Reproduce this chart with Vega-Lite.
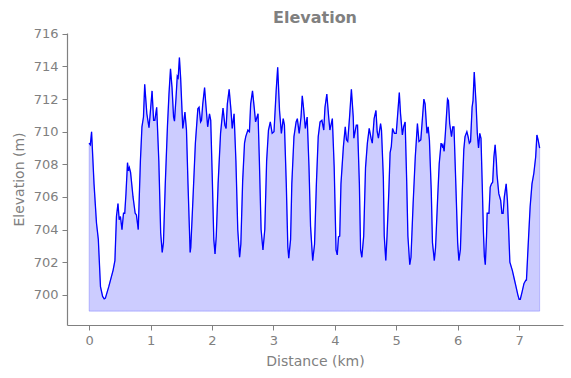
{
  "$schema": "https://vega.github.io/schema/vega-lite/v6.json",
  "width": 496,
  "height": 292,
  "autosize": "none",
  "padding": {"left": 67, "top": 33, "right": 8, "bottom": 53},
  "title": {"text": "Elevation", "font": "DejaVu Sans", "fontSize": 16, "fontWeight": "bold", "color": "#808080", "offset": 2, "anchor": "middle"},
  "config": {
    "view": {"stroke": null},
    "axis": {"grid": false, "domainColor": "#808080", "tickColor": "#808080", "labelColor": "#808080", "titleColor": "#808080", "labelFont": "DejaVu Sans", "titleFont": "DejaVu Sans", "labelFontSize": 13, "titleFontSize": 14, "titleFontWeight": "normal", "tickSize": 5, "labelPadding": 4, "domainWidth": 1.2}
  },
  "data": {"values": [
    {"d":0.00,"e":709.3},{"d":0.02,"e":709.2},{"d":0.04,"e":710.0},{"d":0.08,"e":706.8},{"d":0.12,"e":704.4},{"d":0.15,"e":703.4},{"d":0.185,"e":700.5},{"d":0.22,"e":699.9},{"d":0.245,"e":699.75},{"d":0.265,"e":699.8},{"d":0.32,"e":700.5},{"d":0.39,"e":701.5},{"d":0.42,"e":702.1},{"d":0.445,"e":704.8},{"d":0.47,"e":705.6},{"d":0.49,"e":704.6},{"d":0.51,"e":704.8},{"d":0.535,"e":704.0},{"d":0.56,"e":705.0},{"d":0.58,"e":705.0},{"d":0.60,"e":706.2},{"d":0.625,"e":708.1},{"d":0.64,"e":707.6},{"d":0.655,"e":707.8},{"d":0.675,"e":707.5},{"d":0.715,"e":706.0},{"d":0.75,"e":705.0},{"d":0.77,"e":704.9},{"d":0.80,"e":704.0},{"d":0.835,"e":708.2},{"d":0.86,"e":710.3},{"d":0.885,"e":710.9},{"d":0.905,"e":712.9},{"d":0.94,"e":711.1},{"d":0.975,"e":710.25},{"d":0.99,"e":710.9},{"d":1.025,"e":712.5},{"d":1.05,"e":710.7},{"d":1.07,"e":710.7},{"d":1.10,"e":711.5},{"d":1.135,"e":708.2},{"d":1.165,"e":703.8},{"d":1.19,"e":702.6},{"d":1.21,"e":703.2},{"d":1.24,"e":706.8},{"d":1.275,"e":710.3},{"d":1.30,"e":712.3},{"d":1.325,"e":713.85},{"d":1.35,"e":712.7},{"d":1.375,"e":710.9},{"d":1.39,"e":710.65},{"d":1.415,"e":712.1},{"d":1.435,"e":713.4},{"d":1.45,"e":713.3},{"d":1.47,"e":714.55},{"d":1.49,"e":713.3},{"d":1.525,"e":710.2},{"d":1.54,"e":710.6},{"d":1.56,"e":711.2},{"d":1.585,"e":710.1},{"d":1.61,"e":706.8},{"d":1.645,"e":702.6},{"d":1.655,"e":702.9},{"d":1.685,"e":705.4},{"d":1.73,"e":709.3},{"d":1.77,"e":711.4},{"d":1.79,"e":711.5},{"d":1.815,"e":710.6},{"d":1.83,"e":710.7},{"d":1.85,"e":711.7},{"d":1.88,"e":712.7},{"d":1.90,"e":711.7},{"d":1.93,"e":710.3},{"d":1.96,"e":711.1},{"d":1.98,"e":710.7},{"d":2.005,"e":707.2},{"d":2.03,"e":703.4},{"d":2.05,"e":702.5},{"d":2.07,"e":703.6},{"d":2.10,"e":706.8},{"d":2.14,"e":709.9},{"d":2.18,"e":711.45},{"d":2.21,"e":710.4},{"d":2.23,"e":710.2},{"d":2.25,"e":711.7},{"d":2.28,"e":712.6},{"d":2.31,"e":711.3},{"d":2.33,"e":710.2},{"d":2.36,"e":711.1},{"d":2.39,"e":708.2},{"d":2.42,"e":704.0},{"d":2.45,"e":702.3},{"d":2.47,"e":703.1},{"d":2.50,"e":707.0},{"d":2.53,"e":709.3},{"d":2.55,"e":709.7},{"d":2.585,"e":710.1},{"d":2.61,"e":710.0},{"d":2.63,"e":711.7},{"d":2.66,"e":712.5},{"d":2.69,"e":711.4},{"d":2.71,"e":710.6},{"d":2.75,"e":711.1},{"d":2.77,"e":708.5},{"d":2.80,"e":704.0},{"d":2.83,"e":702.75},{"d":2.86,"e":704.0},{"d":2.89,"e":708.2},{"d":2.92,"e":710.1},{"d":2.95,"e":710.6},{"d":2.98,"e":709.9},{"d":3.01,"e":710.0},{"d":3.045,"e":712.5},{"d":3.07,"e":713.95},{"d":3.10,"e":711.3},{"d":3.13,"e":709.9},{"d":3.16,"e":710.8},{"d":3.18,"e":710.4},{"d":3.21,"e":706.8},{"d":3.235,"e":702.95},{"d":3.25,"e":702.25},{"d":3.28,"e":703.4},{"d":3.30,"e":706.8},{"d":3.335,"e":709.7},{"d":3.37,"e":710.6},{"d":3.39,"e":710.8},{"d":3.42,"e":709.9},{"d":3.45,"e":710.9},{"d":3.47,"e":712.2},{"d":3.49,"e":711.5},{"d":3.52,"e":710.2},{"d":3.55,"e":710.9},{"d":3.58,"e":707.8},{"d":3.605,"e":704.2},{"d":3.64,"e":702.1},{"d":3.67,"e":703.1},{"d":3.70,"e":706.8},{"d":3.73,"e":709.7},{"d":3.76,"e":710.6},{"d":3.79,"e":710.7},{"d":3.82,"e":710.1},{"d":3.84,"e":711.5},{"d":3.87,"e":712.3},{"d":3.90,"e":710.9},{"d":3.92,"e":710.1},{"d":3.96,"e":710.8},{"d":3.99,"e":707.8},{"d":4.02,"e":702.75},{"d":4.04,"e":702.45},{"d":4.06,"e":703.55},{"d":4.08,"e":703.6},{"d":4.10,"e":706.8},{"d":4.14,"e":709.1},{"d":4.17,"e":710.3},{"d":4.19,"e":709.5},{"d":4.21,"e":709.4},{"d":4.24,"e":710.9},{"d":4.27,"e":712.6},{"d":4.30,"e":710.9},{"d":4.31,"e":709.6},{"d":4.35,"e":710.4},{"d":4.37,"e":710.4},{"d":4.40,"e":706.8},{"d":4.42,"e":702.75},{"d":4.44,"e":702.3},{"d":4.47,"e":703.6},{"d":4.50,"e":707.8},{"d":4.53,"e":709.3},{"d":4.56,"e":710.2},{"d":4.59,"e":709.6},{"d":4.61,"e":709.3},{"d":4.64,"e":710.8},{"d":4.67,"e":711.3},{"d":4.69,"e":710.0},{"d":4.71,"e":709.6},{"d":4.745,"e":710.5},{"d":4.76,"e":710.1},{"d":4.79,"e":707.2},{"d":4.805,"e":703.6},{"d":4.83,"e":702.1},{"d":4.85,"e":703.6},{"d":4.88,"e":706.4},{"d":4.90,"e":708.7},{"d":4.92,"e":709.1},{"d":4.94,"e":710.2},{"d":4.97,"e":709.9},{"d":5.00,"e":709.9},{"d":5.02,"e":710.9},{"d":5.05,"e":712.4},{"d":5.07,"e":711.1},{"d":5.10,"e":709.8},{"d":5.12,"e":710.3},{"d":5.145,"e":710.6},{"d":5.17,"e":707.0},{"d":5.19,"e":703.6},{"d":5.22,"e":701.85},{"d":5.24,"e":702.3},{"d":5.275,"e":705.6},{"d":5.31,"e":708.45},{"d":5.345,"e":710.5},{"d":5.37,"e":709.4},{"d":5.40,"e":709.5},{"d":5.42,"e":710.5},{"d":5.45,"e":712.0},{"d":5.47,"e":711.7},{"d":5.50,"e":709.9},{"d":5.52,"e":710.3},{"d":5.54,"e":709.5},{"d":5.57,"e":706.4},{"d":5.59,"e":703.2},{"d":5.62,"e":702.1},{"d":5.64,"e":702.9},{"d":5.675,"e":706.0},{"d":5.70,"e":708.05},{"d":5.73,"e":709.3},{"d":5.75,"e":709.1},{"d":5.76,"e":709.2},{"d":5.78,"e":708.8},{"d":5.80,"e":709.9},{"d":5.835,"e":712.0},{"d":5.85,"e":711.9},{"d":5.87,"e":710.5},{"d":5.90,"e":709.7},{"d":5.92,"e":710.3},{"d":5.94,"e":710.3},{"d":5.97,"e":706.8},{"d":6.00,"e":703.2},{"d":6.02,"e":702.1},{"d":6.045,"e":702.8},{"d":6.07,"e":705.8},{"d":6.10,"e":708.9},{"d":6.12,"e":709.7},{"d":6.15,"e":710.0},{"d":6.17,"e":709.7},{"d":6.19,"e":709.3},{"d":6.21,"e":709.4},{"d":6.235,"e":711.5},{"d":6.25,"e":711.9},{"d":6.27,"e":713.65},{"d":6.30,"e":711.7},{"d":6.32,"e":709.9},{"d":6.34,"e":709.0},{"d":6.36,"e":709.9},{"d":6.38,"e":709.6},{"d":6.40,"e":706.8},{"d":6.42,"e":703.8},{"d":6.435,"e":702.35},{"d":6.45,"e":701.85},{"d":6.47,"e":703.6},{"d":6.48,"e":705.0},{"d":6.51,"e":705.0},{"d":6.53,"e":706.6},{"d":6.55,"e":706.8},{"d":6.57,"e":706.9},{"d":6.59,"e":708.45},{"d":6.61,"e":709.2},{"d":6.63,"e":708.2},{"d":6.64,"e":707.4},{"d":6.66,"e":706.6},{"d":6.67,"e":706.2},{"d":6.70,"e":705.8},{"d":6.72,"e":705.0},{"d":6.74,"e":705.0},{"d":6.76,"e":706.0},{"d":6.79,"e":706.8},{"d":6.81,"e":705.8},{"d":6.83,"e":704.0},{"d":6.85,"e":702.0},{"d":6.89,"e":701.5},{"d":6.92,"e":701.0},{"d":6.95,"e":700.5},{"d":6.98,"e":700.0},{"d":7.00,"e":699.73},{"d":7.02,"e":699.73},{"d":7.05,"e":700.2},{"d":7.08,"e":700.7},{"d":7.11,"e":700.9},{"d":7.12,"e":700.9},{"d":7.15,"e":703.2},{"d":7.18,"e":705.4},{"d":7.21,"e":706.8},{"d":7.24,"e":707.45},{"d":7.27,"e":708.45},{"d":7.29,"e":709.8},{"d":7.31,"e":709.5},{"d":7.335,"e":709.0}
  ]},
  "encoding": {
    "x": {"field": "d", "type": "quantitative", "scale": {"domain": [-0.36, 7.715], "nice": false, "zero": false}, "axis": {"title": "Distance (km)", "values": [0,1,2,3,4,5,6,7], "format": "d", "titlePadding": 7}},
    "y": {"field": "e", "type": "quantitative", "scale": {"domain": [698.15, 716.05], "nice": false, "zero": false}, "axis": {"title": "Elevation (m)", "values": [700,702,704,706,708,710,712,714,716], "titlePadding": 7}}
  },
  "layer": [
    {"mark": {"type": "area", "fill": "#0000ff", "fillOpacity": 0.2, "stroke": "#0000ff", "strokeOpacity": 0.2, "strokeWidth": 1}, "encoding": {"y2": {"datum": 699}}},
    {"mark": {"type": "line", "color": "#0000ff", "strokeWidth": 1.3}}
  ]
}
